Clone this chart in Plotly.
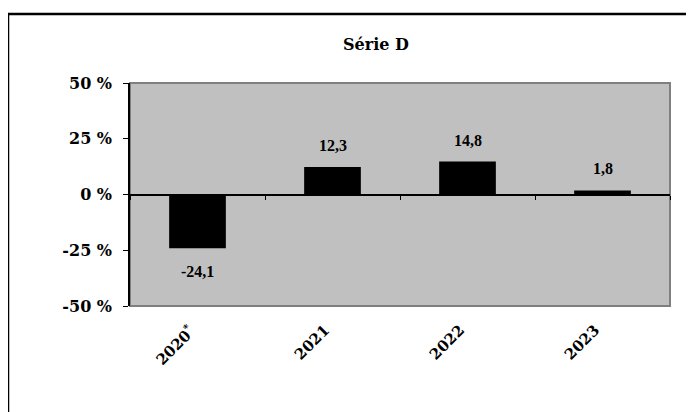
import plotly.graph_objects as go

categories = ["2020<sup>*</sup>", "2021", "2022", "2023"]
values = [-24.1, 12.3, 14.8, 1.8]
y_tick_values = [-50, -25, 0, 25, 50]
y_tick_labels = ["-50 %", "-25 %", "0 %", "25 %", "50 %"]
title_text = "Série D"

# the page body adds an 8px offset, so figure coords = page coords - 8
OFF = 8
W, H = 694, 412
L, T = 130 - OFF, 83 - OFF
R = W - (670 - OFF)
B = H - (306 - OFF)
plot_w = W - L - R
plot_h = H - T - B

fig = go.Figure()
fig.add_trace(go.Bar(
    x=categories, y=values,
    marker=dict(color="black", line=dict(width=0)),
    width=0.42, hoverinfo="skip", showlegend=False,
))

annotations = []
for i, v in enumerate(values):
    label = f"{v:.1f}".replace(".", ",")
    annotations.append(dict(
        x=i, y=v, xref="x", yref="y", text=f"<b>{label}</b>", showarrow=False,
        yanchor="bottom" if v >= 0 else "top",
        yshift=11 if v >= 0 else -13,
        font=dict(family="Liberation Serif", size=16, color="black"),
    ))
# category labels under the plot area
for i, c in enumerate(categories):
    annotations.append(dict(
        x=i, y=0, xref="x", yref="paper", text=f"<b>{c}</b>", showarrow=False,
        textangle=-45, xanchor="right", yanchor="top", xshift=4, yshift=-12,
        font=dict(family="DejaVu Serif", size=15, color="black"),
    ))

fig.update_layout(
    width=W, height=H,
    margin=dict(l=L, r=R, t=T, b=B, pad=0),
    paper_bgcolor="white", plot_bgcolor="#c0c0c0",
    title=dict(text=f"<b>{title_text}</b>", x=(376 - OFF) / W, xanchor="center",
               y=1 - (44 - OFF) / H, yanchor="middle",
               font=dict(family="DejaVu Serif", size=16, color="black")),
    xaxis=dict(type="category", categoryorder="array", categoryarray=categories,
               range=[-0.5, 3.5], anchor="free", position=0.5,
               showline=False, showgrid=False, zeroline=False,
               tickson="boundaries", ticks="outside", ticklen=4, tickwidth=1,
               tickcolor="black", showticklabels=False),
    yaxis=dict(range=[-50, 50], tickvals=y_tick_values, ticktext=y_tick_labels,
               showline=True, linecolor="black", linewidth=1.5,
               ticks="outside", ticklen=5, tickcolor="black", tickwidth=1,
               showgrid=False, zeroline=True, zerolinecolor="black", zerolinewidth=1.5,
               ticklabelstandoff=8,
               tickfont=dict(family="DejaVu Serif", size=16, color="black", weight="bold")),
    annotations=annotations,
    shapes=[
        dict(type="rect", xref="paper", yref="paper", x0=0, x1=1, y0=0, y1=1,
             line=dict(color="#7f7f7f", width=2), layer="below"),
        dict(type="rect", xref="paper", yref="paper",
             x0=(8 - OFF - L) / plot_w, x1=1.3, y0=-0.8,
             y1=(H - B - (14 - OFF)) / plot_h,
             line=dict(color="black", width=2.5), layer="above"),
    ],
)

fig.write_html("out.html")
